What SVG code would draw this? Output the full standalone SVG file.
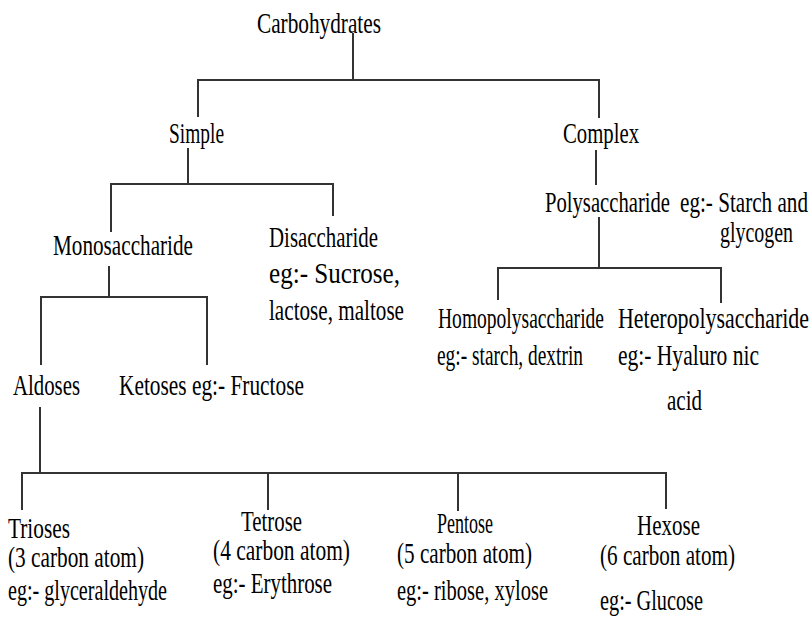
<svg xmlns="http://www.w3.org/2000/svg" width="812" height="617" viewBox="0 0 812 617">
<style>
.t{font-family:'Liberation Serif','Times New Roman',Tinos,'Noto Serif','DejaVu Serif',FreeSerif,serif;font-size:29px;fill:#000}
.c{fill:none;stroke:#333;stroke-width:2}
</style>
<rect width="812" height="617" fill="#fff"/>
<g id="connectors">
<path class="c" d="M353,33 V80 M198,117 V80 H599 V118"/>
<path class="c" d="M188,148 V184 M111,232 V184 H333 V216"/>
<path class="c" d="M109,266 V297 M41,365 V297 H207 V365"/>
<path class="c" d="M596,150 V185"/>
<path class="c" d="M599,217 V268 M498,300 V268 H721 V303"/>
<path class="c" d="M40,407 V473 M22,510 V473 H666 V509 M268,473 V510 M458,473 V511"/>
</g>
<g id="carbohydrates"><text class="t" x="257" y="33" textLength="124" lengthAdjust="spacingAndGlyphs">Carbohydrates</text></g>
<g id="simple"><text class="t" x="169" y="143" textLength="55" lengthAdjust="spacingAndGlyphs">Simple</text></g>
<g id="complex"><text class="t" x="563" y="143" textLength="76" lengthAdjust="spacingAndGlyphs">Complex</text></g>
<g id="monosaccharide"><text class="t" x="53" y="255" textLength="140" lengthAdjust="spacingAndGlyphs">Monosaccharide</text></g>
<g id="disaccharide">
<text class="t" x="269" y="247" textLength="109" lengthAdjust="spacingAndGlyphs">Disaccharide</text>
<text class="t" x="269" y="283" textLength="131" lengthAdjust="spacingAndGlyphs">eg:- Sucrose,</text>
<text class="t" x="269" y="320" textLength="135" lengthAdjust="spacingAndGlyphs">lactose, maltose</text>
</g>
<g id="polysaccharide">
<text class="t" x="545" y="212" textLength="125" lengthAdjust="spacingAndGlyphs">Polysaccharide</text>
<text class="t" x="680" y="212" textLength="128" lengthAdjust="spacingAndGlyphs">eg:- Starch and</text>
<text class="t" x="720" y="242" textLength="73" lengthAdjust="spacingAndGlyphs">glycogen</text>
</g>
<g id="homopolysaccharide">
<text class="t" x="438" y="328" textLength="166" lengthAdjust="spacingAndGlyphs">Homopolysaccharide</text>
<text class="t" x="437" y="365" textLength="146" lengthAdjust="spacingAndGlyphs">eg:- starch, dextrin</text>
</g>
<g id="heteropolysaccharide">
<text class="t" x="618" y="328" textLength="191" lengthAdjust="spacingAndGlyphs">Heteropolysaccharide</text>
<text class="t" x="618" y="365" textLength="141" lengthAdjust="spacingAndGlyphs">eg:- Hyaluro nic</text>
<text class="t" x="667" y="410" textLength="35" lengthAdjust="spacingAndGlyphs">acid</text>
</g>
<g id="aldoses"><text class="t" x="13" y="395" textLength="67" lengthAdjust="spacingAndGlyphs">Aldoses</text></g>
<g id="ketoses"><text class="t" x="119" y="395" textLength="185" lengthAdjust="spacingAndGlyphs">Ketoses eg:- Fructose</text></g>
<g id="trioses">
<text class="t" x="8" y="538" textLength="62" lengthAdjust="spacingAndGlyphs">Trioses</text>
<text class="t" x="8" y="567" textLength="136" lengthAdjust="spacingAndGlyphs">(3 carbon atom)</text>
<text class="t" x="8" y="600" textLength="159" lengthAdjust="spacingAndGlyphs">eg:- glyceraldehyde</text>
</g>
<g id="tetrose">
<text class="t" x="241" y="531" textLength="61" lengthAdjust="spacingAndGlyphs">Tetrose</text>
<text class="t" x="213" y="560" textLength="137" lengthAdjust="spacingAndGlyphs">(4 carbon atom)</text>
<text class="t" x="213" y="593" textLength="119" lengthAdjust="spacingAndGlyphs">eg:- Erythrose</text>
</g>
<g id="pentose">
<text class="t" x="437" y="533" textLength="56" lengthAdjust="spacingAndGlyphs">Pentose</text>
<text class="t" x="397" y="563" textLength="135" lengthAdjust="spacingAndGlyphs">(5 carbon atom)</text>
<text class="t" x="397" y="600" textLength="151" lengthAdjust="spacingAndGlyphs">eg:- ribose, xylose</text>
</g>
<g id="hexose">
<text class="t" x="637" y="535" textLength="63" lengthAdjust="spacingAndGlyphs">Hexose</text>
<text class="t" x="600" y="565" textLength="135" lengthAdjust="spacingAndGlyphs">(6 carbon atom)</text>
<text class="t" x="600" y="610" textLength="103" lengthAdjust="spacingAndGlyphs">eg:- Glucose</text>
</g>
</svg>
